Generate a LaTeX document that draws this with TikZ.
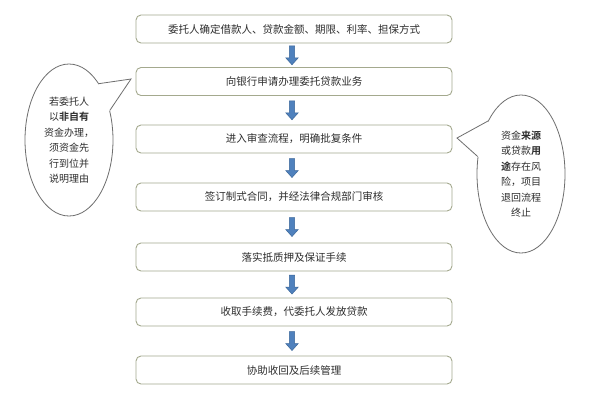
\documentclass[tikz,border=0pt]{standalone}
\usepackage{fontspec}
\newfontfamily\cjk{Noto Sans CJK SC}[BoldFont={Noto Sans CJK SC Bold}]
\usetikzlibrary{shapes.geometric,calc}
\definecolor{boxline}{HTML}{A4A98E}
\definecolor{ellline}{HTML}{6E6E6E}
\definecolor{arrfill}{HTML}{4F81BD}
\definecolor{arrline}{HTML}{3A6699}
\definecolor{txt}{HTML}{2E2E2E}
\tikzset{
  stepbox/.style={draw=boxline, line width=0.9bp, rounded corners=5bp, fill=white,
    minimum width=316bp, minimum height=28bp, inner sep=0pt, text=txt,
    font=\cjk\fontsize{10.5bp}{12bp}\selectfont},
  callout/.style={ellipse, draw=ellline, line width=0.8bp, fill=white, inner sep=0pt,
    align=center, text=txt, font=\cjk\fontsize{10bp}{15.5bp}\selectfont},
  tailfill/.style={fill=white},
  tailline/.style={draw=ellline, line width=0.8bp, line join=miter},
  darrow/.pic={\filldraw[fill=arrfill, draw=arrline, line width=0.5bp]
     (-2.7,-9.5) -- (2.7,-9.5) -- (2.7,2.5) -- (6.3,2.5) -- (0,9.5)
     -- (-6.3,2.5) -- (-2.7,2.5) -- cycle;}
}
\begin{document}
\begin{tikzpicture}[x=1bp,y=-1bp]
\useasboundingbox[fill=white] (0,0) rectangle (596,400);
\node[stepbox] (b1) at (294,29) {委托人确定借款人、贷款金额、期限、利率、担保方式};
\node[stepbox] (b2) at (294,81.5) {向银行申请办理委托贷款业务};
\node[stepbox] (b3) at (294,139) {进入审查流程，明确批复条件};
\node[stepbox] (b4) at (294,197) {签订制式合同，并经法律合规部门审核};
\node[stepbox] (b5) at (294,257) {落实抵质押及保证手续};
\node[stepbox] (b6) at (294,312) {收取手续费，代委托人发放贷款};
\node[stepbox] (b7) at (294,370) {协助收回及后续管理};
\foreach \a/\b in {b1/b2,b2/b3,b3/b4,b4/b5,b5/b6,b6/b7}{
  \path (\a.south) -- (\b.north) coordinate[pos=0.5] (m-\a);
  \pic at ([xshift=-2bp]m-\a) {darrow};
}
% left callout
\node[callout, minimum width=88bp, minimum height=152bp] (L) at (69,140)
  {若委托人\\以\textbf{非自有}\\资金办理，\\须资金先\\行到位并\\说明理由};
\coordinate (Ltip) at (131,79);
\fill[tailfill] ($(L.center)!0.96!(L.62)$) -- (L.62) -- (Ltip) -- (L.36) -- ($(L.center)!0.96!(L.36)$) -- cycle;
\draw[tailline] (L.62) -- (Ltip) -- (L.36);
% right callout
\node[callout, minimum width=88bp, minimum height=158bp] (R) at (521,174)
  {资金\textbf{来源}\\或贷款\textbf{用}\\\textbf{途}存在风\\险，项目\\退回流程\\终止};
\coordinate (Rtip) at (457,138);
\fill[tailfill] ($(R.center)!0.96!(R.122)$) -- (R.122) -- (Rtip) -- (R.158) -- ($(R.center)!0.96!(R.158)$) -- cycle;
\draw[tailline] (R.122) -- (Rtip) -- (R.158);
\end{tikzpicture}
\end{document}
